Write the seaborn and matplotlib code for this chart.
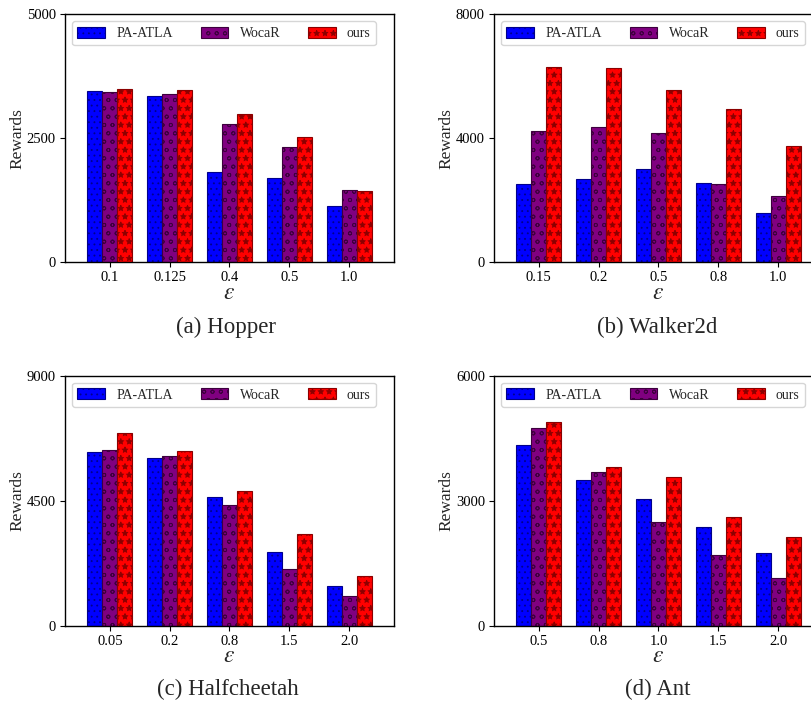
import matplotlib
matplotlib.use("Agg")
import matplotlib.pyplot as plt
import seaborn as sns
import pandas as pd

methods = ["PA-ATLA", "WocaR", "ours"]

hopper_eps = ["0.1", "0.125", "0.4", "0.5", "1.0"]
hopper_pa = [3444, 3343, 1822, 1695, 1132]
hopper_wocar = [3424, 3390, 2794, 2318, 1447]
hopper_ours = [3491, 3464, 2995, 2519, 1434]

walker_eps = ["0.15", "0.2", "0.5", "0.8", "1.0"]
walker_pa = [2536, 2686, 2996, 2547, 1573]
walker_wocar = [4237, 4344, 4162, 2515, 2129]
walker_ours = [6302, 6270, 5564, 4954, 3756]

cheetah_eps = ["0.05", "0.2", "0.8", "1.5", "2.0"]
cheetah_pa = [6244, 6051, 4632, 2671, 1432]
cheetah_wocar = [6328, 6111, 4343, 2045, 1059]
cheetah_ours = [6953, 6304, 4836, 3284, 1780]

ant_eps = ["0.5", "0.8", "1.0", "1.5", "2.0"]
ant_pa = [4347, 3497, 3040, 2366, 1740]
ant_wocar = [4756, 3689, 2478, 1692, 1139]
ant_ours = [4892, 3810, 3561, 2598, 2125]

panels = [
    ("(a) Hopper", hopper_eps, [hopper_pa, hopper_wocar, hopper_ours], 5000),
    ("(b) Walker2d", walker_eps, [walker_pa, walker_wocar, walker_ours], 8000),
    ("(c) Halfcheetah", cheetah_eps, [cheetah_pa, cheetah_wocar, cheetah_ours], 9000),
    ("(d) Ant", ant_eps, [ant_pa, ant_wocar, ant_ours], 6000),
]

sns.set_theme(style="ticks")
plt.rcParams["font.family"] = ["Liberation Serif", "DejaVu Serif"]
plt.rcParams["mathtext.fontset"] = "stix"
plt.rcParams["hatch.linewidth"] = 0.6

fills = ["#0000ff", "#800080", "#ff0000"]
edges = ["#00008b", "#3d003d", "#8b0000"]
hatches = ["...", "oo", "**"]

fig = plt.figure(figsize=(8.12, 7.02), dpi=100)
W, H = 812.0, 702.0
axw = 329 / W
positions = [
    (65 / W, 1 - 262.3 / H, axw, 248.3 / H),
    (494 / W, 1 - 262.3 / H, axw, 248.3 / H),
    (65 / W, 1 - 625.7 / H, axw, 250 / H),
    (494 / W, 1 - 625.7 / H, axw, 250 / H),
]
caption_x = [226, 657, 228, 658]
caption_y = [327, 327, 689, 689]

for (title, eps, series, ymax), pos, cx, cy in zip(panels, positions, caption_x, caption_y):
    ax = fig.add_axes(pos)
    rows = []
    for m, vals in zip(methods, series):
        for e, v in zip(eps, vals):
            rows.append({"eps": e, "method": m, "reward": v})
    df = pd.DataFrame(rows)
    sns.barplot(data=df, x="eps", y="reward", hue="method", order=eps,
                hue_order=methods, palette=fills, width=0.75, saturation=1,
                errorbar=None, legend=False, ax=ax)
    for cont, ec, ht in zip(ax.containers, edges, hatches):
        for p in cont.patches:
            p.set_edgecolor(ec)
            p.set_hatch(ht)
            p.set_linewidth(0.8)
    ax.set_xlim(-0.75, 4.75)
    ax.set_ylim(0, ymax)
    ax.set_yticks([0, ymax / 2, ymax])
    ax.set_yticklabels([str(int(t)) for t in [0, ymax / 2, ymax]])
    ax.tick_params(labelsize=10.5, length=3.5, width=0.8, colors="black", pad=3)
    for s in ax.spines.values():
        s.set_visible(True)
        s.set_color("black")
        s.set_linewidth(1.0)
    ax.set_xlabel(r"$\epsilon$", fontsize=17, labelpad=-1)
    ax.set_ylabel("Rewards", fontsize=12.5, labelpad=1)
    ax.legend(handles=list(ax.containers), labels=methods, loc="upper left",
              ncol=3, fontsize=10, handlelength=2.0, handleheight=0.85,
              frameon=True, fancybox=True, edgecolor="#cccccc",
              borderaxespad=0.5, columnspacing=2.0)
    fig.text(cx / W, 1 - cy / H, title, ha="center", va="center", fontsize=16.5)

fig.savefig("out.png", dpi=100)
